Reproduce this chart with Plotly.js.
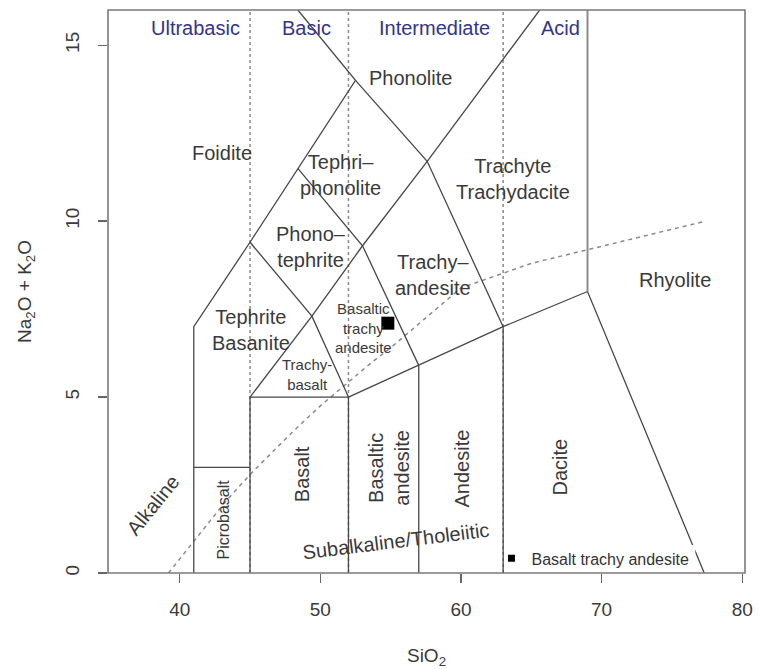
<!DOCTYPE html>
<html>
<head>
<meta charset="utf-8">
<script src="https://cdn.plot.ly/plotly-3.0.1.min.js"></script>
<style>html,body{margin:0;padding:0;background:#fff}#chart{width:759px;height:669px}</style>
</head>
<body>
<div id="chart"></div>
<script>
// ---- sample data ----
const sampleName = "Basalt trachy andesite";
const sampleSiO2 = [54.8];
const sampleAlk = [7.1];

// ---- TAS field boundaries (SiO2, Na2O+K2O) ----
const foiditeX = [41, 41, 45, 48.4, 52.5, 48.4];
const foiditeY = [0, 7, 9.4, 11.5, 14, 16];
const picroX = [41, 45];
const picroY = [3, 3];
const basaltX = [45, 45, 52, 52];
const basaltY = [0, 5, 5, 0];
const alkSeriesX = [45, 49.4, 53, 57.6, 65.6];
const alkSeriesY = [5, 7.3, 9.3, 11.7, 16];
const phonoTephX = [45, 49.4, 52];
const phonoTephY = [9.4, 7.3, 5];
const tephriPhonX = [48.4, 53, 57];
const tephriPhonY = [11.5, 9.3, 5.9];
const phonoliteX = [52.5, 57.6, 63];
const phonoliteY = [14, 11.7, 7];
const subTopX = [52, 57, 63, 69, 77.3];
const subTopY = [5, 5.9, 7, 8, 0];
const andesiteX = [57, 57, null, 63, 63];
const andesiteY = [0, 5.9, null, 0, 7];
const rhyoliteX = [69, 69];
const rhyoliteY = [8, 16];

// ---- silica class dividers ----
const dividerX = [45, 45, null, 52, 52, null, 63, 63];
const dividerY = [0, 16, null, 0, 16, null, 0, 16];

// ---- alkaline / subalkaline divide ----
const ibX = [39.2, 40, 43.2, 45, 48, 50, 53.7, 55, 60, 65, 77.4];
const ibY = [0, 0.4, 2, 2.8, 4, 4.75, 6, 6.4, 8.1, 8.8, 10];

// ---- labels ----
const classNames = ["Ultrabasic", "Basic", "Intermediate", "Acid"];
const classX = [41.1, 49.05, 58.1, 67.1];
const classY = [15.5, 15.5, 15.5, 15.5];

const rockNames = ["Phonolite", "Foidite", "Tephri–<br>phonolite", "Trachyte<br>Trachydacite",
  "Phono–<br>tephrite", "Trachy–<br>andesite", "Tephrite<br>Basanite", "Rhyolite"];
const rockX = [56.4, 43.0, 51.4, 63.7, 49.35, 58.0, 45.1, 75.2];
const rockY = [14.07, 11.94, 11.31, 11.2, 9.26, 8.47, 6.9, 8.33];

const smallNames = ["Basaltic<br>trachy<br>andesite", "Trachy-<br>basalt"];
const smallX = [53.04, 49.07];
const smallY = [6.96, 5.65];

const vertNames = ["Picrobasalt", "Basalt", "Basaltic<br>andesite", "Andesite", "Dacite"];
const vertX = [43.1, 48.7, 54.9, 60.1, 67.05];
const vertY = [1.53, 2.81, 3.0, 2.98, 3.0];

const seriesNames = ["Alkaline", "Subalkaline/Tholeiitic"];
const seriesX = [38.1, 55.4];
const seriesY = [1.93, 0.91];
const seriesAngle = [-51, -7];

const xTicks = [40, 50, 60, 70, 80];
const yTicks = [0, 5, 10, 15];

// ---- traces ----
const lineColor = "#474747";
function poly(x, y, color, width, dash) {
  return {x: x, y: y, type: "scatter", mode: "lines", hoverinfo: "skip", showlegend: false,
    line: {color: color, width: width, dash: dash || "solid"}};
}
const traces = [
  poly(dividerX, dividerY, "#8a8a8a", 1.5, "dot"),
  poly(ibX, ibY, "#8a8a8a", 1.5, "4px,4px"),
  poly(foiditeX, foiditeY, lineColor, 1.3),
  poly(picroX, picroY, lineColor, 1.3),
  poly(basaltX, basaltY, lineColor, 1.3),
  poly(alkSeriesX, alkSeriesY, lineColor, 1.3),
  poly(phonoTephX, phonoTephY, lineColor, 1.3),
  poly(tephriPhonX, tephriPhonY, lineColor, 1.3),
  poly(phonoliteX, phonoliteY, lineColor, 1.3),
  poly(subTopX, subTopY, lineColor, 1.3),
  poly(andesiteX, andesiteY, lineColor, 1.3),
  poly(rhyoliteX, rhyoliteY, "#8c8c8c", 2),
  {x: sampleSiO2, y: sampleAlk, type: "scatter", mode: "markers", name: sampleName, showlegend: true,
    marker: {symbol: "square", size: 7, color: "#000"}},
  {x: sampleSiO2, y: sampleAlk, type: "scatter", mode: "markers", name: sampleName, showlegend: false,
    marker: {symbol: "square", size: 13, color: "#000"}}
];

const fontFam = "Liberation Sans, Arial, sans-serif";
const annotations = [];
classNames.forEach((t, i) => annotations.push({x: classX[i], y: classY[i], text: t, showarrow: false,
  font: {family: fontFam, size: 20, color: "#34348a"}}));
rockNames.forEach((t, i) => annotations.push({x: rockX[i], y: rockY[i], text: t, showarrow: false,
  font: {family: fontFam, size: 20, color: "#3a3a3a"}}));
smallNames.forEach((t, i) => annotations.push({x: smallX[i], y: smallY[i], text: t, showarrow: false,
  font: {family: fontFam, size: 15, color: "#3a3a3a"}}));
vertNames.forEach((t, i) => annotations.push({x: vertX[i], y: vertY[i], text: t, showarrow: false, textangle: -90,
  font: {family: fontFam, size: i === 0 ? 16 : 20, color: "#3a3a3a"}}));
seriesNames.forEach((t, i) => annotations.push({x: seriesX[i], y: seriesY[i], text: t, showarrow: false,
  textangle: seriesAngle[i], font: {family: fontFam, size: 20, color: "#3a3a3a"}}));

const layout = {
  width: 759, height: 669,
  margin: {l: 108, r: 14, t: 10, b: 96},
  paper_bgcolor: "#fff", plot_bgcolor: "#fff",
  font: {family: fontFam, color: "#3a3a3a"},
  xaxis: {range: [34.9, 80.2], tickvals: xTicks, ticktext: xTicks.map(String), showgrid: false, zeroline: false,
    showline: false, ticks: "outside", ticklen: 9, tickcolor: "#666", tickwidth: 1.3,
    tickfont: {size: 19, color: "#3a3a3a"}, ticklabelstandoff: 10,
    title: {text: "SiO<sub>2</sub>", font: {size: 19, color: "#3a3a3a"}, standoff: 31}},
  yaxis: {range: [0, 16], tickvals: yTicks, ticktext: yTicks.map(String), showgrid: false, zeroline: false,
    showline: false, ticks: "outside", ticklen: 9, tickcolor: "#666", tickwidth: 1.3, tickangle: -90,
    tickfont: {size: 19, color: "#3a3a3a"}, ticklabelstandoff: 11,
    title: {text: "Na<sub>2</sub>O + K<sub>2</sub>O", font: {size: 19, color: "#3a3a3a"}, standoff: 25}},
  shapes: [
    {type: "rect", xref: "paper", yref: "paper", x0: 0.628, x1: 0.922, y0: 0.0124, y1: 0.0497,
      fillcolor: "#fff", line: {width: 0}, layer: "above"},
    {type: "rect", xref: "paper", yref: "paper", x0: 0, x1: 1, y0: 0, y1: 1,
      line: {color: "#7a7a7a", width: 1.6}, layer: "above"}
  ],
  legend: {x: 0.602, y: 0.026, xanchor: "left", yanchor: "middle", bgcolor: "rgba(0,0,0,0)", borderwidth: 0,
    font: {family: fontFam, size: 16, color: "#333"}},
  annotations: annotations
};

Plotly.newPlot("chart", traces, layout, {displayModeBar: false, staticPlot: true});
</script>
</body>
</html>
